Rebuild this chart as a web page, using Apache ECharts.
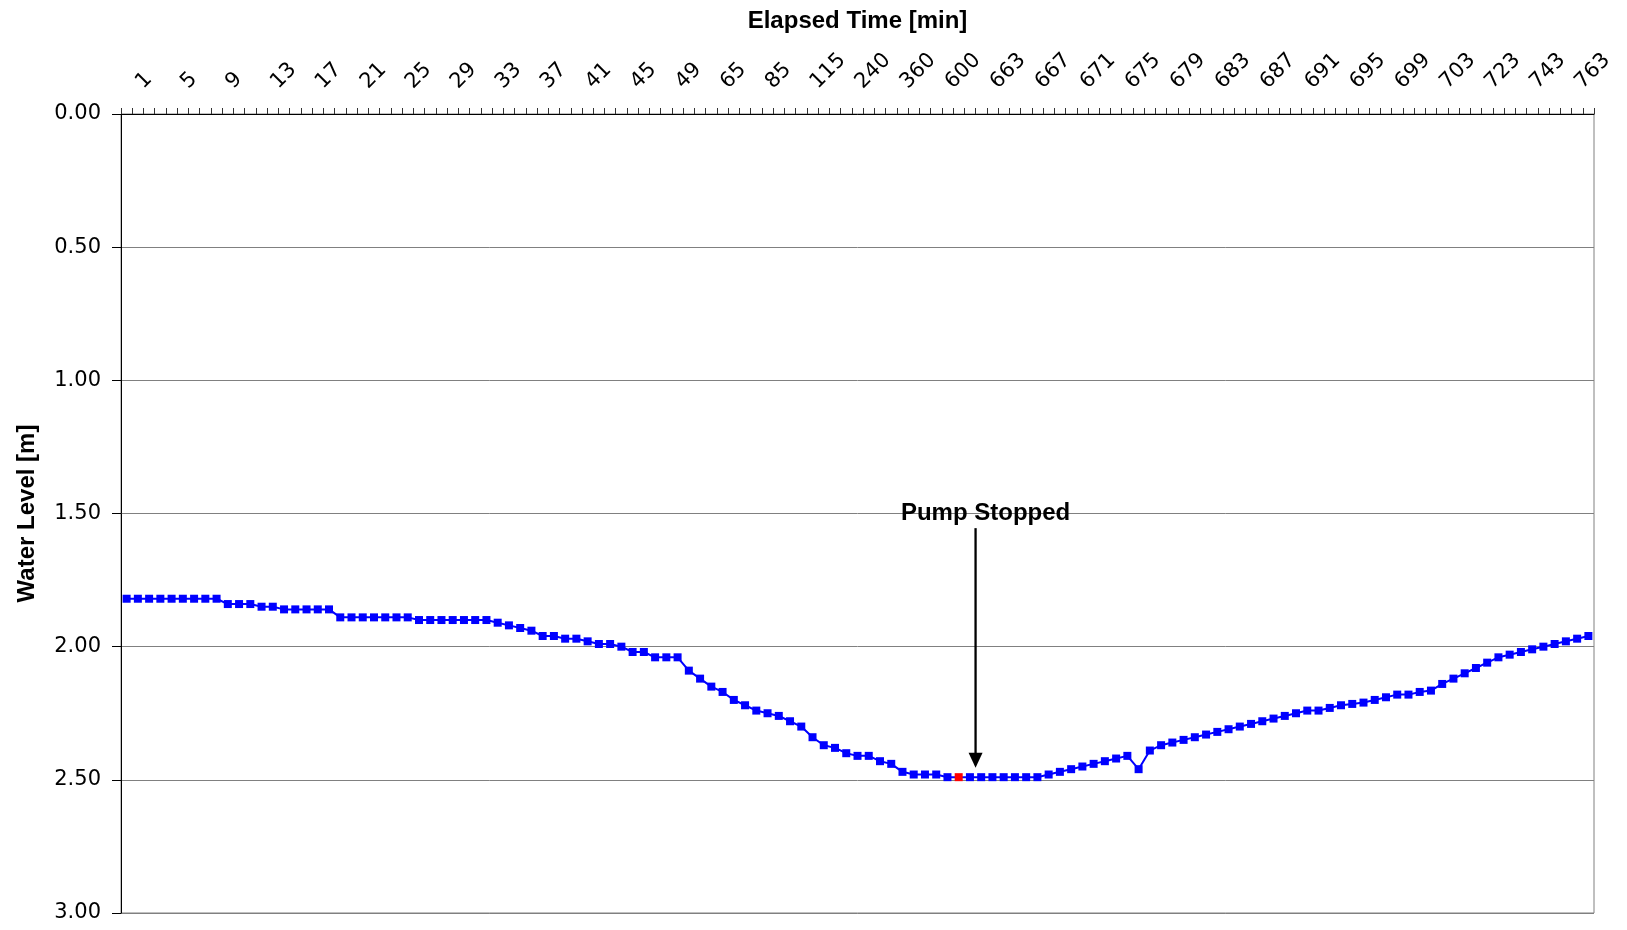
<!DOCTYPE html>
<html>
<head>
<meta charset="utf-8">
<script src="https://cdn.jsdelivr.net/npm/echarts@6/dist/echarts.min.js"></script>
<style>
html,body{margin:0;padding:0;background:#fff;}
#chart{width:1627px;height:930px;}
</style>
</head>
<body>
<div id="chart"></div>
<script>
// Elapsed time categories [min]
const elapsedMin = [1,2,3,4,5,6,7,8,9,10,11,12,13,14,15,16,17,18,19,20,21,22,23,24,25,26,27,28,29,30,31,32,33,34,35,36,37,38,39,40,41,42,43,44,45,46,47,48,49,50,55,60,65,70,75,80,85,90,100,110,115,150,180,210,240,270,300,330,360,420,480,540,600,630,660,662,663,664,665,666,667,668,669,670,671,672,673,674,675,676,677,678,679,680,681,682,683,684,685,686,687,688,689,690,691,692,693,694,695,696,697,698,699,700,701,702,703,708,713,718,723,728,733,738,743,748,753,758,763,768,773];

// Water level [m]
const waterLevel = [
  1.82,1.82,1.82,1.82,1.82,1.82,1.82,1.82,1.82,
  1.84,1.84,1.84,
  1.85,1.85,
  1.86,1.86,1.86,1.86,1.86,
  1.89,1.89,1.89,1.89,1.89,1.89,1.89,
  1.90,1.90,1.90,1.90,1.90,1.90,1.90,
  1.91,1.92,1.93,1.94,1.96,1.96,1.97,1.97,1.98,1.99,1.99,2.00,
  2.02,2.02,2.04,2.04,2.04,2.09,2.12,2.15,2.17,2.20,2.22,2.24,2.25,2.26,2.28,2.30,
  2.34,2.37,2.38,2.40,2.41,2.41,2.43,2.44,2.47,2.48,2.48,2.48,2.49,
  2.49,2.49,2.49,2.49,2.49,2.49,2.49,2.49,
  2.48,2.47,2.46,2.45,2.44,2.43,2.42,2.41,2.46,
  2.39,2.37,2.36,2.35,2.34,2.33,2.32,2.31,2.30,2.29,2.28,2.27,2.26,2.25,
  2.24,2.24,2.23,2.22,2.215,2.21,2.20,2.19,2.18,2.18,2.17,2.165,
  2.14,2.12,2.10,2.08,2.06,2.04,2.03,2.02,2.01,2.00,1.99,1.98,1.97,1.96
];

const yTicks = [0, 0.5, 1.0, 1.5, 2.0, 2.5, 3.0];
const pumpStopMin = 660;
const annotationText = 'Pump Stopped';
const arrowBetween = [662, 663];     // arrow sits between these two categories
const arrowLevels = [1.555, 2.455];  // arrow from / to water level
const labelLevel = 1.50;

const FONT = "'Liberation Sans', Arial, sans-serif";
const TICKFONT = "'DejaVu Sans', 'Liberation Sans', sans-serif";
const chart = echarts.init(document.getElementById('chart'), null, {renderer: 'canvas'});

const stopIdx = elapsedMin.indexOf(pumpStopMin);
const seriesData = waterLevel.map((v, i) => i === stopIdx
  ? {value: v, itemStyle: {color: '#FF0000'}}
  : v);

chart.setOption({
  animation: false,
  backgroundColor: '#ffffff',
  grid: {left: 121, right: 33, top: 114, bottom: 17, show: true, borderColor: '#808080', borderWidth: 1},
  xAxis: {
    type: 'category',
    position: 'top',
    data: elapsedMin.map(String),
    boundaryGap: true,
    name: 'Elapsed Time [min]',
    nameLocation: 'middle',
    nameGap: 81,
    nameTextStyle: {fontFamily: FONT, fontWeight: 'bold', fontSize: 24, color: '#000'},
    axisLine: {show: true, lineStyle: {color: '#000', width: 1}},
    axisTick: {show: true, interval: 0, length: 6, lineStyle: {color: '#333'}},
    axisLabel: {interval: 3, rotate: 45, margin: 16, padding: [0, 0, 0, 18], fontFamily: TICKFONT, fontSize: 21, color: '#000'},
    splitLine: {show: false}
  },
  yAxis: {
    type: 'value',
    inverse: true,
    min: yTicks[0],
    max: yTicks[yTicks.length - 1],
    interval: 0.5,
    name: 'Water Level [m]',
    nameLocation: 'middle',
    nameGap: 82,
    nameTextStyle: {fontFamily: FONT, fontWeight: 'bold', fontSize: 24, color: '#000'},
    axisLine: {show: true, lineStyle: {color: '#000', width: 1}},
    axisTick: {show: true, length: 9, lineStyle: {color: '#000'}},
    axisLabel: {margin: 20, fontFamily: TICKFONT, fontSize: 21, color: '#000', formatter: v => v.toFixed(2)},
    splitLine: {show: true, lineStyle: {color: '#808080', width: 1}}
  },
  series: [{
    type: 'line',
    data: seriesData,
    symbol: 'rect',
    symbolSize: 8,
    showAllSymbol: true,
    lineStyle: {color: '#0000FF', width: 2},
    itemStyle: {color: '#0000FF'},
    z: 3
  }]
});

// Annotation positioned through the chart's own coordinate system
const i0 = elapsedMin.indexOf(arrowBetween[0]);
const i1 = elapsedMin.indexOf(arrowBetween[1]);
const pA = chart.convertToPixel({gridIndex: 0}, [i0, arrowLevels[0]]);
const pB = chart.convertToPixel({gridIndex: 0}, [i1, arrowLevels[1]]);
const pL = chart.convertToPixel({gridIndex: 0}, [i1, labelLevel]);
const ax = (pA[0] + pB[0]) / 2;
const topY = pA[1], tipY = pB[1];
chart.setOption({
  graphic: [
    {type: 'line', z: 10, shape: {x1: ax, y1: topY, x2: ax, y2: tipY - 12}, style: {stroke: '#000', lineWidth: 2.3}},
    {type: 'polygon', z: 10, shape: {points: [[ax - 7, tipY - 15], [ax + 7, tipY - 15], [ax, tipY]]}, style: {fill: '#000'}},
    {type: 'text', z: 10, x: ax + 10, y: pL[1], style: {text: annotationText, font: 'bold 24px ' + FONT, fill: '#000', align: 'center', verticalAlign: 'middle'}}
  ]
});
</script>
</body>
</html>
